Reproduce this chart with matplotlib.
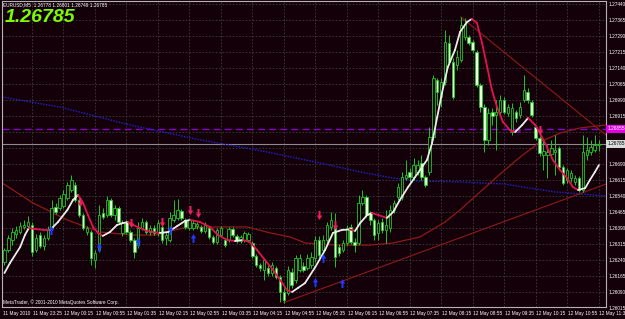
import numpy as np
import matplotlib.pyplot as plt
from matplotlib.collections import LineCollection
from matplotlib.transforms import blended_transform_factory

# prices below are in points (0.00001) above 1.26000
BASE = 1.26000
PT = 0.00001

# EURUSD M5 bars, left to right (last bar = 12 May 11:35)
open_pts = [231, 287, 334, 362, 371, 395, 399, 404, 287, 357,
            306, 343, 390, 488, 484, 493, 531, 568, 592, 521,
            451, 371, 371, 240, 287, 460, 451, 521, 451, 484,
            367, 418, 371, 334, 310, 390, 418, 371, 390, 371,
            395, 343, 334, 428, 437, 470, 428, 390, 390, 399,
            395, 376, 390, 348, 324, 357, 334, 334, 385, 353,
            329, 334, 334, 320, 259, 217, 193, 203, 179, 203,
            160, 90, 85, 184, 146, 193, 212, 203, 217, 249,
            334, 287, 334, 395, 390, 301, 287, 320, 395, 324,
            320, 507, 535, 460, 428, 367, 418, 381, 390, 475,
            535, 535, 624, 653, 629, 653, 695, 629, 653, 817,
            1084, 1004, 1074, 1257, 1168, 1154, 1177, 1285, 1285, 1262,
            1215, 1060, 957, 803, 934, 920, 934, 990, 929, 840,
            934, 920, 990, 1028, 981, 864, 812, 732, 732, 737,
            746, 765, 676, 615, 624, 606, 624, 568, 732, 746,
            756, 778]
high_pts = [296, 357, 390, 399, 418, 428, 446, 418, 362, 371,
            357, 399, 521, 507, 545, 568, 606, 638, 606, 531,
            460, 399, 381, 287, 498, 484, 540, 531, 498, 493,
            428, 428, 381, 343, 418, 437, 428, 404, 404, 428,
            413, 371, 465, 521, 526, 479, 437, 437, 428, 418,
            404, 418, 399, 357, 390, 399, 343, 395, 395, 362,
            357, 376, 371, 329, 268, 226, 249, 217, 231, 212,
            170, 109, 212, 203, 263, 268, 231, 268, 278, 353,
            353, 357, 418, 465, 460, 315, 334, 404, 409, 343,
            545, 568, 545, 470, 437, 428, 437, 475, 498, 521,
            601, 653, 709, 671, 718, 709, 732, 638, 864, 1107,
            1093, 1093, 1318, 1295, 1187, 1224, 1379, 1374, 1295, 1271,
            1224, 1070, 971, 953, 953, 990, 1013, 1004, 971, 976,
            943, 981, 1107, 1046, 990, 873, 821, 803, 779, 803,
            826, 774, 685, 671, 662, 638, 634, 826, 817, 803,
            826, 801]
low_pts = [217, 278, 310, 343, 362, 385, 390, 259, 278, 296,
           287, 334, 381, 456, 475, 484, 521, 559, 512, 442,
           381, 357, 217, 203, 278, 432, 442, 442, 428, 409,
           353, 362, 324, 249, 296, 381, 362, 357, 357, 353,
           320, 310, 324, 418, 428, 428, 385, 381, 381, 385,
           367, 367, 338, 315, 315, 348, 301, 324, 348, 320,
           320, 324, 324, 249, 207, 189, 146, 165, 165, 151,
           43, 38, 76, 109, 132, 184, 184, 193, 203, 231,
           249, 263, 320, 381, 207, 259, 278, 310, 315, 278,
           310, 498, 442, 404, 334, 334, 367, 320, 371, 460,
           521, 521, 615, 606, 615, 638, 615, 582, 638, 803,
           967, 957, 1060, 1154, 995, 1131, 1168, 1271, 1248, 1215,
           1051, 934, 746, 779, 873, 756, 920, 924, 915, 826,
           887, 906, 981, 976, 910, 803, 727, 662, 624, 718,
           638, 662, 592, 601, 606, 592, 559, 559, 709, 732,
           746, 749]
close_pts = [287, 343, 371, 381, 399, 404, 418, 278, 343, 306,
             343, 381, 484, 465, 531, 549, 592, 615, 521, 451,
             390, 390, 249, 273, 451, 442, 521, 451, 484, 418,
             418, 371, 334, 278, 390, 418, 371, 390, 367, 413,
             334, 357, 437, 451, 475, 437, 395, 428, 413, 409,
             376, 404, 348, 324, 381, 390, 310, 385, 357, 329,
             348, 367, 362, 259, 217, 203, 240, 179, 217, 160,
             90, 52, 193, 123, 249, 249, 193, 249, 254, 334,
             263, 334, 404, 428, 254, 273, 320, 390, 324, 310,
             507, 535, 451, 428, 357, 413, 381, 404, 475, 507,
             582, 629, 638, 629, 685, 685, 629, 592, 817, 1093,
             1028, 1074, 1262, 1168, 1004, 1192, 1342, 1346, 1257, 1224,
             1060, 957, 803, 929, 915, 934, 990, 934, 957, 953,
             906, 957, 1037, 990, 920, 812, 742, 751, 746, 765,
             756, 676, 601, 662, 648, 624, 568, 746, 756, 770,
             779, 785]

# fast smoothed MA (white rising / red falling), read at bar positions
fast_t = [0, 1.4, 4, 5.2, 6.2, 8, 10, 11.6, 13.6, 16, 17.4, 18.7, 20, 21.2,
          22.5, 23.8, 25, 26.8, 28.6, 30.1, 31.4, 32.7, 34.5, 36.2, 37.8,
          39.5, 41.6, 43.9, 45.9, 47.2, 49.7, 52.2, 54.3, 56.6, 58.6, 60.6,
          62.4, 64.2, 66.2, 68.3, 70.6, 71.8, 73.1, 74.6, 76.4, 79, 81.5,
          83.5, 85.8, 87.8, 89.1, 90.4, 92.2, 93.4, 95, 97.2, 98.8, 100.5,
          102.6, 105.1, 107.4, 108.7, 110, 111.2, 112.7, 114.5, 115.8, 117.6,
          118.8, 120.1, 121.4, 122.7, 123.9, 125.2, 126.7, 128.5, 129.8,
          131.6, 133.1, 134.9, 136.1, 137.9, 139.4, 141.2, 143, 144.5, 145.8,
          147.6, 148.8, 150.1, 151.1]
fast_pts = [179, 226, 301, 357, 390, 385, 381, 381, 418, 475, 521, 545, 507,
            451, 395, 367, 353, 371, 404, 413, 418, 404, 390, 376, 371, 367,
            371, 399, 423, 428, 418, 395, 357, 334, 329, 334, 324, 287, 240,
            193, 132, 99, 90, 109, 132, 207, 287, 367, 381, 383, 376, 413,
            451, 460, 451, 437, 465, 521, 582, 648, 709, 789, 910, 1023,
            1145, 1224, 1309, 1356, 1370, 1351, 1257, 1145, 1037, 957, 887,
            849, 840, 873, 906, 873, 835, 770, 709, 662, 624, 582, 568, 577,
            615, 653, 685]

# slow MA (dark red)
slow_t = [-0.6, 7.3, 15.9, 24.3, 32.7, 38.3, 45.4, 54, 61.7, 67.5, 72.6,
          76.4, 84.5, 92.9, 98.8, 105.6, 112, 115.8, 120.9, 126, 131.1,
          136.1, 141.2, 146.3, 152.9]
slow_pts = [601, 507, 428, 371, 357, 357, 390, 395, 395, 367, 348, 320, 310,
            310, 320, 348, 418, 475, 559, 643, 723, 793, 835, 859, 873]

# long MA (blue dotted)
long_t = [-0.6, 14.1, 31.9, 49.7, 64.2, 80.2, 90.4, 98.8, 105.6, 115.8,
          127.2, 139.9, 152.9]
long_pts = [1004, 957, 873, 803, 756, 695, 653, 624, 610, 606, 596, 559, 540]

# trend lines (bar, price)
trend_low_t, trend_low_pts = [71, 152.9], [40, 596]
trend_high_t, trend_high_pts = [116, 152.9], [1379, 826]

pivot_price = 1.26855
bid_price = 1.26785

# signal arrows
down_t = [19.2, 32.2, 40.0, 47.2, 49.2, 80.0, 84.0, 136.1]
down_pts = [512, 413, 418, 475, 460, 451, 404, 849]
up_t = [11.8, 24.0, 34.0, 42.1, 47.9, 79.0, 81.0, 85.8]
up_pts = [381, 301, 324, 381, 343, 137, 249, 132]

time_labels = ['11 May 23:25', '12 May 00:15', '12 May 00:55', '12 May 01:35',
               '12 May 02:15', '12 May 02:55', '12 May 03:35', '12 May 04:15',
               '12 May 04:55', '12 May 05:35', '12 May 06:15', '12 May 06:55',
               '12 May 07:35', '12 May 08:15', '12 May 08:55', '12 May 09:35',
               '12 May 10:15', '12 May 10:55', '12 May 11:35']
price_ticks = [1.26015 + 0.00075 * k for k in range(20)]

# colours
BG = '#140008'
GREEN = '#1ec81e'
BEAR = '#e4ffd8'
GRID = '#3e3e3e'
FONT = 'Liberation Sans'
FS = 3.4


def to_price(pts):
    return BASE + np.asarray(pts, dtype=float) * PT


fig = plt.figure(figsize=(6.25, 3.19), dpi=100, facecolor=BG)
ax = fig.add_axes([2 / 625, 12 / 319, 604 / 625, 306 / 319], facecolor=BG)
ax.set_xlim(-0.625, 152.9)
ax.set_ylim(to_price(19.7), to_price(1454.1))
ax.set_xticks([])
ax.set_yticks([])
for s in ax.spines.values():
    s.set_color('#b4b4b4')
    s.set_linewidth(0.8)

# grid
tick_pos = [7 + 8 * k for k in range(len(time_labels))]
for p in price_ticks:
    ax.axhline(p, color=GRID, lw=0.6, ls=(0, (2, 2)), zorder=0)
for t in tick_pos:
    ax.axvline(t, color=GRID, lw=0.6, ls=(0, (2, 2)), zorder=0)

# horizontal levels
ax.axhline(pivot_price, color='#8a00cc', lw=1.0, ls=(0, (5, 3)), zorder=1)
ax.axhline(bid_price, color='#8c8c8c', lw=0.8, zorder=1)
ax.text(128.5, pivot_price, 'Pivot', fontsize=FS, color='#9a20d8', family=FONT,
        fontweight='bold', va='top', ha='left', zorder=1)

# candles
idx = np.arange(len(close_pts))
o, h, l, c = to_price(open_pts), to_price(high_pts), to_price(low_pts), to_price(close_pts)
bull = c >= o
ax.vlines(idx, l, h, color=GREEN, lw=0.7, zorder=3)
body = np.maximum(np.abs(c - o), 3 * PT)
ax.bar(idx, body, bottom=np.minimum(o, c), width=0.62,
       color=np.where(bull, BG, BEAR), edgecolor=GREEN, linewidth=0.6, zorder=4)

# moving averages and trend lines
ax.plot(long_t, to_price(long_pts), color='#2222d8', lw=1.0, ls=(0, (1, 1)), zorder=2)
ax.plot(slow_t, to_price(slow_pts), color='#8e1a1a', lw=0.9, zorder=2)
ax.plot(trend_low_t, to_price(trend_low_pts), color='#8e1a1a', lw=0.8, zorder=2)
ax.plot(trend_high_t, to_price(trend_high_pts), color='#8e1a1a', lw=0.8, zorder=2)

fy = to_price(fast_pts)
segs = [[(fast_t[i], fy[i]), (fast_t[i + 1], fy[i + 1])] for i in range(len(fast_t) - 1)]
seg_col = ['#ececec' if fy[i + 1] > fy[i] else '#e01450' for i in range(len(fast_t) - 1)]
ax.add_collection(LineCollection(segs, colors=seg_col, linewidths=1.3, zorder=5,
                                 capstyle='round'))

# arrows
down_m = [(-0.22, 1), (0.22, 1), (0.22, 0), (0.6, 0), (0, -1), (-0.6, 0), (-0.22, 0)]
up_m = [(x, -y) for x, y in down_m]
ax.plot(down_t, to_price(down_pts), ls='none', marker=down_m, ms=6.5,
        color='#ea2060', mec='none', zorder=6)
ax.plot(up_t, to_price(up_pts), ls='none', marker=up_m, ms=6.5,
        color='#2038ff', mec='none', zorder=6)

# price scale
ty = blended_transform_factory(ax.transAxes, ax.transData)
for p in price_ticks:
    if abs(p - pivot_price) < 0.0003 or abs(p - bid_price) < 0.0003:
        continue
    ax.text(1.004, p, f'{p:.5f}', transform=ty, fontsize=FS, color='white',
            family=FONT, va='center', ha='left', clip_on=False)
ax.text(1.003, pivot_price, f'{pivot_price:.5f}', transform=ty, fontsize=FS,
        color='white', family=FONT, va='center', ha='left', clip_on=False,
        bbox=dict(boxstyle='square,pad=0.3', fc='#e000e0', ec='none'))
ax.text(1.003, bid_price, f'{bid_price:.5f}', transform=ty, fontsize=FS,
        color='black', family=FONT, va='center', ha='left', clip_on=False,
        bbox=dict(boxstyle='square,pad=0.3', fc='#d8d8d8', ec='none'))

# time scale
tx = blended_transform_factory(ax.transData, ax.transAxes)
ax.text(0.002, -0.02, '11 May 2010', transform=ax.transAxes, fontsize=FS,
        color='white', family=FONT, va='center', ha='left', clip_on=False)
for t, lab in zip(tick_pos, time_labels):
    ax.text(t + 0.2, -0.02, lab, transform=tx, fontsize=FS, color='white',
            family=FONT, va='center', ha='left', clip_on=False)

# header texts
ax.text(0.002, 0.988, 'EURUSD,M5  1.26778 1.26801 1.26749 1.26785',
        transform=ax.transAxes, fontsize=FS, color='white', family=FONT,
        va='center', ha='left')
ax.text(0.004, 0.975, '1.26785', transform=ax.transAxes, fontsize=14,
        color='#7cfc00', fontweight='bold', fontstyle='italic',
        family=FONT, va='top', ha='left')
ax.text(0.002, 0.016, 'MetaTrader, \u00a9 2001-2010 MetaQuotes Software Corp.',
        transform=ax.transAxes, fontsize=FS, color='white', family=FONT,
        va='center', ha='left')

fig.savefig('out.png', dpi=100, facecolor=BG)
